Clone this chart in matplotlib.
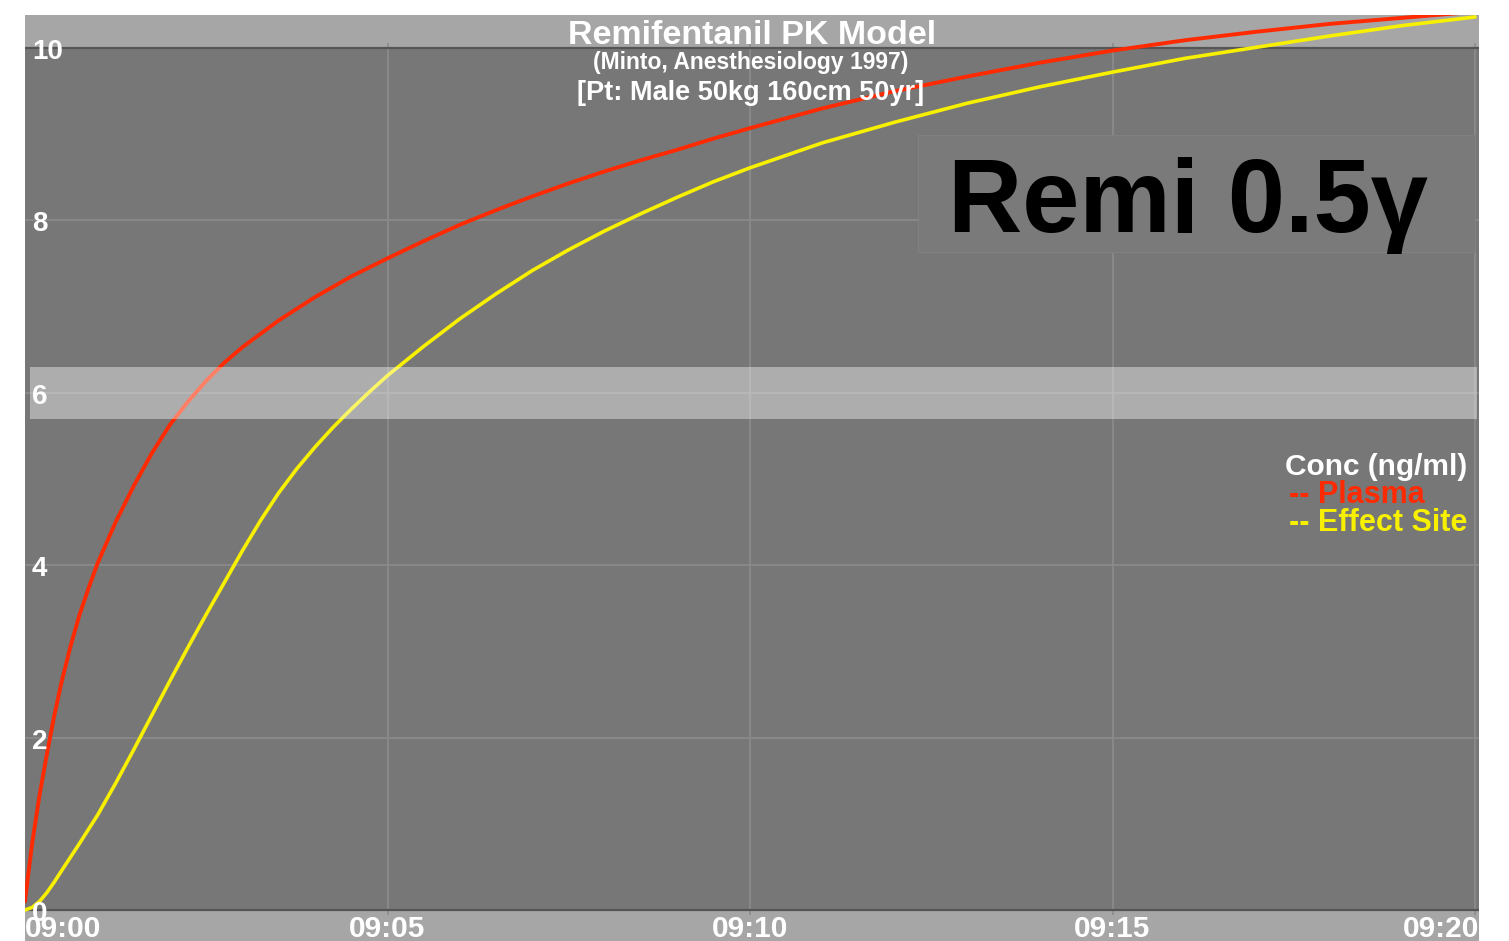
import matplotlib
matplotlib.use("Agg")
import matplotlib.pyplot as plt
from matplotlib.patches import Rectangle

# ---- data ----
plasma_t = [0, 0.05, 0.1, 0.2, 0.3, 0.4, 0.5, 0.625, 0.75, 0.875, 1.0, 1.25, 1.5, 1.75,
            2.0, 2.25, 2.5, 2.75, 3.0, 3.5, 4.0, 4.5, 5.0, 5.5, 6.0, 6.5, 7.0, 7.5, 8.0,
            8.5, 9.0, 9.5, 10, 11, 12, 13, 14, 15, 16, 17, 18, 19, 20]
plasma = [0.1, 0.45, 0.78, 1.33, 1.80, 2.24, 2.63, 3.05, 3.42, 3.73, 4.02, 4.50, 4.92, 5.30,
          5.63, 5.90, 6.14, 6.35, 6.53, 6.84, 7.11, 7.35, 7.56, 7.76, 7.95, 8.12, 8.28, 8.43,
          8.57, 8.70, 8.82, 8.95, 9.07, 9.30, 9.50, 9.67, 9.83, 9.97, 10.09, 10.19, 10.28,
          10.35, 10.42]

effect_t = [0, 0.1, 0.2, 0.3, 0.4, 0.5, 0.75, 1.0, 1.25, 1.5, 1.75, 2.0, 2.25, 2.5, 2.75,
            3.0, 3.25, 3.5, 3.75, 4.0, 4.25, 4.5, 4.75, 5.0, 5.5, 6.0, 6.5, 7.0, 7.5, 8.0,
            8.5, 9.0, 9.5, 10, 11, 12, 13, 14, 15, 16, 17, 18, 19, 20]
effect = [0.0, 0.03, 0.1, 0.2, 0.32, 0.45, 0.77, 1.10, 1.47, 1.86, 2.26, 2.66, 3.05, 3.43,
          3.80, 4.17, 4.52, 4.84, 5.12, 5.37, 5.60, 5.81, 6.01, 6.20, 6.54, 6.86, 7.15, 7.42,
          7.66, 7.88, 8.08, 8.27, 8.45, 8.61, 8.90, 9.14, 9.36, 9.55, 9.72, 9.88, 10.01,
          10.14, 10.26, 10.36]

x_ticks = [0, 5, 10, 15, 20]
x_labels = ["09:00", "09:05", "09:10", "09:15", "09:20"]
y_ticks = [0, 2, 4, 6, 8, 10]
y_labels = ["0", "2", "4", "6", "8", "10"]
target_band = (5.7, 6.3)

title = "Remifentanil PK Model"
subtitle = "(Minto, Anesthesiology 1997)"
patient = "[Pt: Male 50kg 160cm 50yr]"
legend_title = "Conc (ng/ml)"
legend_items = ["-- Plasma", "-- Effect Site"]
note = "Remi 0.5γ"

# ---- style ----
W, H = 1509, 941
DARK = "#777777"
LIGHT = "#a6a6a6"
GRID = "#8c8c8c"
RED = "#ff2a00"
YEL = "#f7f000"
LAB = ["Liberation Sans", "DejaVu Sans"]
PX_MIN = 72.5     # pixels per minute
PX_UNIT = 86.2    # pixels per ng/ml


def fy(py):
    return 1 - py / H


fig = plt.figure(figsize=(W / 100, H / 100), dpi=100)
fig.patch.set_facecolor("white")
ax = fig.add_axes([25 / W, 0, (1479 - 25) / W, (941 - 15) / H])
ax.set_facecolor(DARK)
for s in ax.spines.values():
    s.set_visible(False)
ax.set_xlim(0, 1454 / PX_MIN)
ax.set_ylim(-31 / PX_UNIT, 10 + 33 / PX_UNIT)
ax.set_xticks([])
ax.set_yticks([])

# light bands (above 10 and below 0)
ax.axhspan(10, 20, color=LIGHT, zorder=0.5, lw=0)
ax.axhspan(-5, 0, color=LIGHT, zorder=0.5, lw=0)

# grid
for yv in y_ticks[1:-1]:
    ax.axhline(yv, color=GRID, lw=1.2, zorder=1)
for xv in x_ticks[1:]:
    ax.plot([xv, xv], [-0.06, 10.06], color=GRID, lw=1.2, zorder=1, solid_capstyle="butt")
ax.axhline(0, color="#555555", lw=1.6, zorder=1.5)
ax.axhline(10, color="#555555", lw=1.6, zorder=1.5)

# curves
ax.plot(plasma_t, plasma, color=RED, lw=2.8, zorder=3, solid_capstyle="round",
        solid_joinstyle="round")
ax.plot(effect_t, effect, color=YEL, lw=2.6, zorder=3, solid_capstyle="round",
        solid_joinstyle="round")

# target band
ax.axhspan(target_band[0], target_band[1], xmin=5 / 1454, xmax=1452 / 1454,
           color="white", alpha=0.4, zorder=4, lw=0)

# note box (figure-level, above the axes)
fig.patches.append(Rectangle((918 / W, fy(252)), (1475 - 918) / W, (252 - 135) / H,
                             transform=fig.transFigure, facecolor="#7a7a7a",
                             edgecolor="#808080", lw=0.8, zorder=1.8, figure=fig))

# y tick labels
for yv, lab in zip(y_ticks, y_labels):
    fig.text(32 / W, fy(914 - yv * PX_UNIT), lab, color="white", fontsize=20,
             fontweight="bold", family=LAB, ha="left", va="center", zorder=5)

# x tick labels
for i, (xv, lab) in enumerate(zip(x_ticks, x_labels)):
    px = 25 + xv * PX_MIN
    ha = "center"
    if i == 0:
        ha, px = "left", 25
    elif i == len(x_ticks) - 1:
        ha, px = "right", 1479
    fig.text(px / W, fy(915), lab, color="white", fontsize=21.5, fontweight="bold",
             family=LAB, ha=ha, va="top", zorder=5)

# titles
fig.text(752 / W, fy(36), title, color="white", fontsize=24.5, fontweight="bold",
         family=LAB, ha="center", va="center", zorder=5)
fig.text(751 / W, fy(62), subtitle, color="white", fontsize=16.5, fontweight="bold",
         family=LAB, ha="center", va="center", zorder=5)
fig.text(751 / W, fy(93), patient, color="white", fontsize=19.5, fontweight="bold",
         family=LAB, ha="center", va="center", zorder=5)

# legend
fig.text(1467 / W, fy(467), legend_title, color="white", fontsize=21.5, fontweight="bold",
         family=LAB, ha="right", va="center", zorder=5)
fig.text(1289 / W, fy(495), legend_items[0], color=RED, fontsize=22, fontweight="bold",
         family=LAB, ha="left", va="center", zorder=5)
fig.text(1289 / W, fy(523), legend_items[1], color=YEL, fontsize=22, fontweight="bold",
         family=LAB, ha="left", va="center", zorder=5)

# big note
fig.text(1188 / W, fy(232), note, color="black", fontsize=74, fontweight="bold",
         family=LAB, ha="center", va="baseline", zorder=6)

fig.savefig("out.png", dpi=100)
